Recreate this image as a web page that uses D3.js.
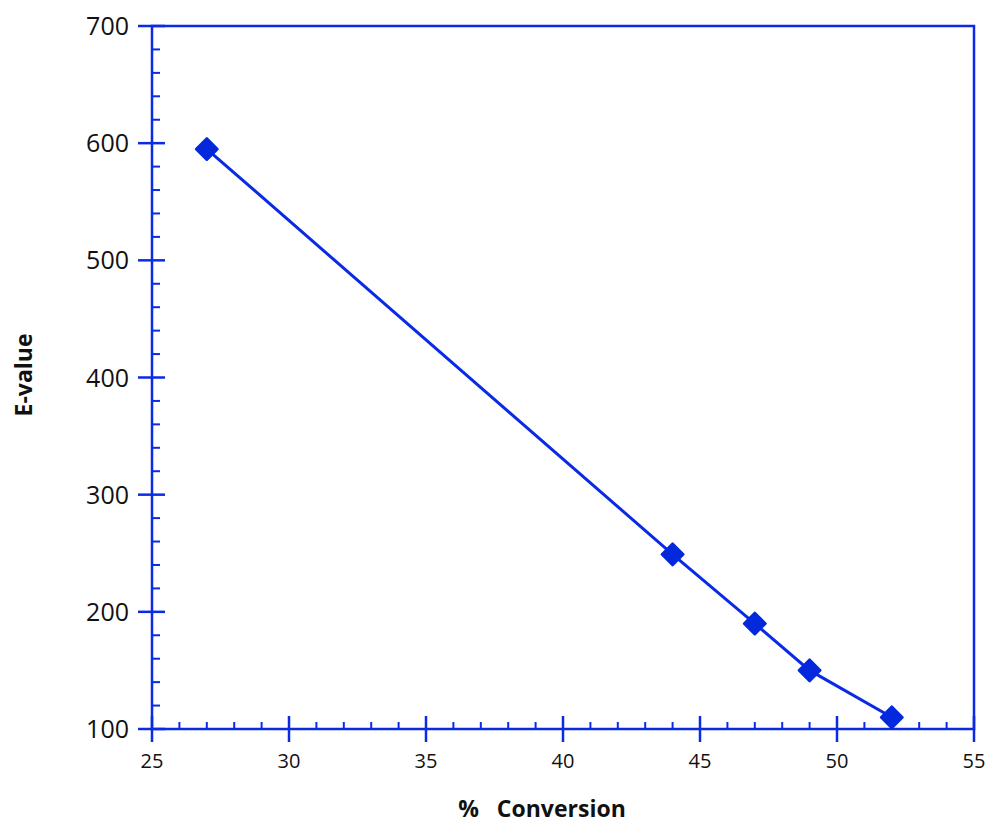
<!DOCTYPE html>
<html>
<head>
<meta charset="utf-8">
<script src="https://cdn.jsdelivr.net/npm/d3@7"></script>
<style>
  body { margin: 0; background: #fff; }
  svg { display: block; font-family: "Open Sans", sans-serif; }
</style>
</head>
<body>
<div id="chart"></div>
<script>
// data
const conversion = [27, 44, 47, 49, 52];
const eValue = [595, 249, 190, 150, 110];
const xTicks = [25, 30, 35, 40, 45, 50, 55];
const yTicks = [100, 200, 300, 400, 500, 600, 700];

const width = 987, height = 824;
const margin = { left: 152, right: 13, top: 26, bottom: 95 };
const blue = "#0a2ae6";

const svg = d3.select("#chart").append("svg")
    .attr("width", width)
    .attr("height", height);

const x = d3.scaleLinear().domain([25, 55]).range([margin.left, width - margin.right]);
const y = d3.scaleLinear().domain([100, 700]).range([height - margin.bottom, margin.top]);

const x0 = x.range()[0], x1 = x.range()[1];
const y0 = y.range()[0], y1 = y.range()[1];

// frame
svg.append("rect")
    .attr("x", x0).attr("y", y1)
    .attr("width", x1 - x0).attr("height", y0 - y1)
    .attr("fill", "none")
    .attr("stroke", blue)
    .attr("stroke-width", 2.5);

// minor ticks
const xMinor = d3.range(26, 55, 1).filter(v => v % 5 !== 0);
svg.append("g").selectAll("line")
    .data(xMinor).join("line")
    .attr("x1", d => x(d)).attr("x2", d => x(d))
    .attr("y1", y0).attr("y2", y0 - 7)
    .attr("stroke", blue).attr("stroke-width", 2);

const yMinor = d3.range(120, 700, 20).filter(v => v % 100 !== 0);
svg.append("g").selectAll("line")
    .data(yMinor).join("line")
    .attr("x1", x0).attr("x2", x0 + 8)
    .attr("y1", d => y(d)).attr("y2", d => y(d))
    .attr("stroke", blue).attr("stroke-width", 2);

// major ticks
svg.append("g").selectAll("line")
    .data(xTicks).join("line")
    .attr("x1", d => x(d)).attr("x2", d => x(d))
    .attr("y1", y0 - 13).attr("y2", y0 + 13)
    .attr("stroke", blue).attr("stroke-width", 2.5);

svg.append("g").selectAll("line")
    .data(yTicks).join("line")
    .attr("x1", x0 - 14).attr("x2", x0 + 13)
    .attr("y1", d => y(d)).attr("y2", d => y(d))
    .attr("stroke", blue).attr("stroke-width", 2.5);

// tick labels
svg.append("g").selectAll("text")
    .data(xTicks).join("text")
    .attr("x", d => x(d)).attr("y", y0 + 39)
    .attr("text-anchor", "middle")
    .attr("font-size", 20)
    .attr("fill", "#111")
    .text(d => d);

svg.append("g").selectAll("text")
    .data(yTicks).join("text")
    .attr("x", x0 - 23).attr("y", d => y(d) + 9)
    .attr("text-anchor", "end")
    .attr("font-size", 25)
    .attr("fill", "#111")
    .text(d => d);

// axis titles
svg.append("text")
    .attr("x", 542).attr("y", 817)
    .attr("text-anchor", "middle")
    .attr("font-size", 23)
    .attr("font-weight", "bold")
    .attr("fill", "#111")
    .attr("xml:space", "preserve")
    .style("white-space", "pre")
    .text("%   Conversion");

svg.append("text")
    .attr("transform", "translate(32,375) rotate(-90)")
    .attr("text-anchor", "middle")
    .attr("font-size", 23)
    .attr("font-weight", "bold")
    .attr("fill", "#111")
    .text("E-value");

// series
const points = conversion.map((c, i) => ({ c, e: eValue[i] }));

svg.append("path")
    .datum(points)
    .attr("fill", "none")
    .attr("stroke", blue)
    .attr("stroke-width", 3)
    .attr("d", d3.line().x(d => x(d.c)).y(d => y(d.e)));

const diamond = d3.symbol().type(d3.symbolSquare).size(230);
svg.append("g").selectAll("path")
    .data(points).join("path")
    .attr("transform", d => `translate(${x(d.c)},${y(d.e)}) rotate(45)`)
    .attr("d", diamond)
    .attr("fill", "#0428dc")
    .attr("stroke", "#0428dc")
    .attr("stroke-width", 2.5)
    .attr("stroke-linejoin", "round");
</script>
</body>
</html>
